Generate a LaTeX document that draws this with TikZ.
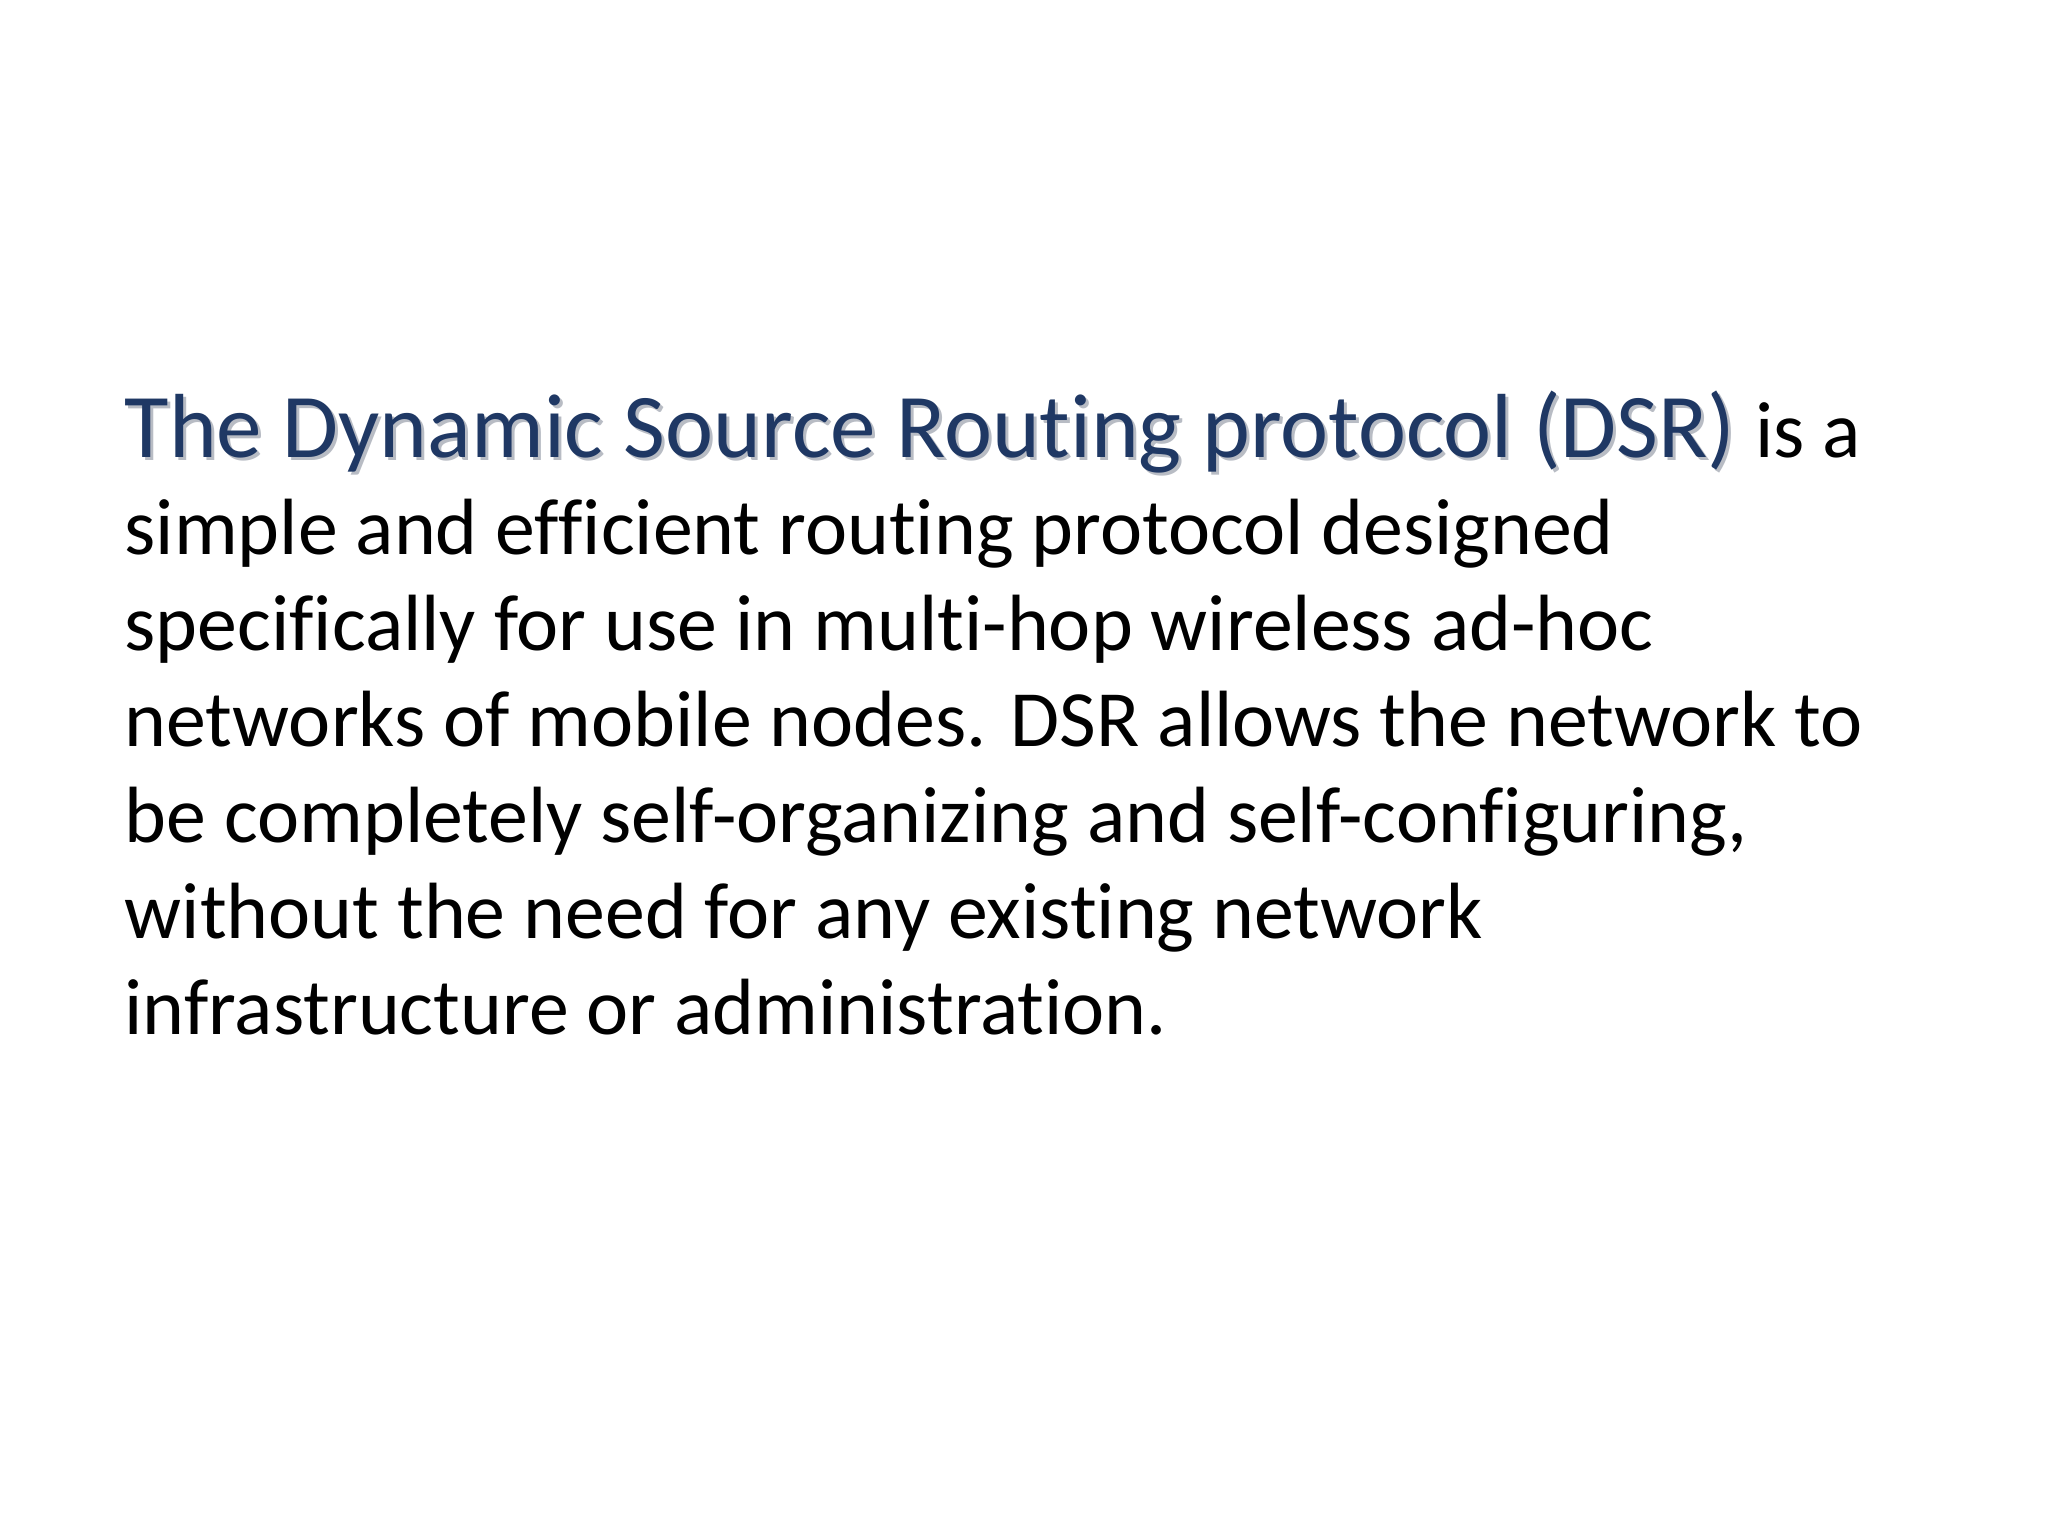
\documentclass[tikz,border=0pt]{standalone}
\usepackage{fontspec}
\setmainfont[RawFeature={-liga}]{Carlito}
\definecolor{ttl}{HTML}{1F3864}
\definecolor{shd}{HTML}{B8BCC4}
\begin{document}
\begin{tikzpicture}[x=1cm,y=1cm,
  body/.style={anchor=base west,inner sep=0pt,font=\fontsize{22.7pt}{27pt}\selectfont,text=black},
  title/.style={anchor=base west,inner sep=0pt,font=\fontsize{25.9pt}{31pt}\selectfont}]
\useasboundingbox[fill=white] (0,0) rectangle (20.48,15.36);
\node[title,text=shd] (sh) at (1.27,10.75) {The Dynamic Source Routing protocol (DSR)};
\node[title,text=ttl] (t) at (1.24,10.78) {The Dynamic Source Routing protocol (DSR)};
\node[body] (l1b) at (t.base east) {\ is a};
\node[body] (l2) at (1.24,9.81) {simple and efficient routing protocol designed};
\node[body] (l3) at (1.24,8.85) {specifically for use in multi-hop wireless ad-hoc};
\node[body] (l4) at (1.24,7.89) {networks of mobile nodes. DSR allows the network to};
\node[body] (l5) at (1.24,6.93) {be completely self-organizing and self-configuring,};
\node[body] (l6) at (1.24,5.97) {without the need for any existing network};
\node[body] (l7) at (1.24,5.01) {infrastructure or administration.};
\end{tikzpicture}
\end{document}
